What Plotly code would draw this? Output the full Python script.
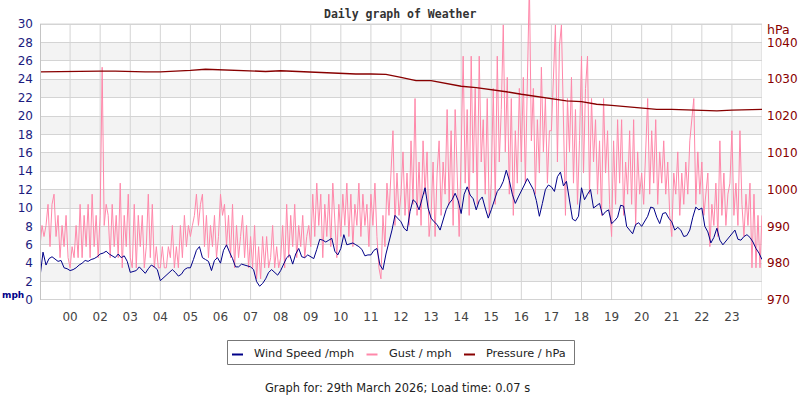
import numpy as np
import plotly.graph_objects as go

# ---------------- data ----------------
hour_labels = ["00", "02", "03", "04", "05", "06", "07", "08", "09", "10", "11",
               "12", "13", "14", "15", "16", "17", "18", "19", "20", "21", "22", "23"]
hour_pos = list(range(len(hour_labels)))          # slot index of each labelled hour
mph_ticks = list(range(0, 31, 2))
hpa_ticks = list(range(970, 1041, 10))
band_lo = [2, 6, 10, 14, 18, 22, 26]               # shaded rows (mph)
band_hi = [4, 8, 12, 16, 20, 24, 28]
series_names = ["Wind Speed /mph", "Gust / mph", "Pressure / hPa"]

# wind speed, mph, every 0.1 h starting one slot before "00"
wind_mph = [
    2.5, 5.2, 3.8, 4.5, 4.7, 4.4, 4.2, 4.3, 3.5, 3.4,
    3.2, 3.3, 3.5, 3.8, 4.0, 4.3, 4.2, 4.4, 4.5, 4.7,
    5.0, 5.1, 5.3, 5.0, 4.8, 4.6, 5.0, 4.6, 4.8, 4.2,
    3.0, 3.1, 3.2, 3.6, 3.3, 2.9, 3.4, 3.8, 3.6, 3.3,
    2.1, 2.4, 2.8, 3.1, 3.3, 3.0, 2.6, 2.8, 3.3, 3.5,
    3.5, 4.4, 5.4, 5.8, 4.6, 4.4, 4.2, 3.2, 4.3, 4.6,
    4.0, 5.4, 6.0, 5.2, 4.5, 3.6, 3.6, 3.9, 3.8, 3.7,
    3.6, 3.3, 2.0, 1.5, 1.8, 2.3, 3.0, 3.3, 3.0, 2.7,
    3.2, 3.9, 4.6, 4.9, 3.9, 5.0, 5.6, 4.7, 4.6, 4.9,
    4.7, 4.5, 5.5, 6.6, 6.5, 6.3, 6.5, 6.7, 5.3, 4.9,
    5.6, 7.1, 6.0, 6.1, 6.2, 6.0, 5.8, 5.5, 4.8, 4.9,
    4.9, 5.4, 5.6, 3.8, 3.3, 5.0, 6.2, 7.6, 9.2, 8.8,
    8.5, 7.8, 7.5, 9.6, 10.9, 10.6, 9.8, 11.0, 12.2, 10.0,
    8.9, 8.5, 8.2, 7.6, 8.6, 9.8, 10.5, 10.9, 11.6, 10.8,
    9.4, 11.5, 12.3, 11.4, 11.0, 9.8, 10.8, 11.2, 10.0, 8.9,
    9.8, 10.9, 11.8, 12.2, 12.9, 14.1, 13.0, 11.5, 10.5, 11.2,
    11.8, 12.5, 13.2, 12.6, 12.0, 10.8, 9.1, 10.5, 12.0, 12.5,
    12.3, 11.8, 13.4, 13.9, 12.4, 12.9, 11.0, 8.8, 8.6, 9.1,
    12.2, 10.9, 11.5, 12.0, 10.0, 10.3, 10.5, 9.2, 9.6, 9.8,
    8.3, 8.6, 9.0, 10.3, 10.2, 8.0, 7.6, 7.2, 8.2, 8.4,
    8.0, 8.6, 9.1, 10.1, 10.0, 9.0, 8.3, 9.4, 9.5, 8.9,
    8.5, 7.6, 7.9, 7.6, 6.9, 7.0, 7.6, 9.0, 10.1, 9.8,
    10.0, 8.0, 7.4, 6.2, 6.8, 7.8, 6.5, 6.0, 6.4, 6.9,
    7.2, 7.6, 6.6, 6.5, 6.9, 7.1, 6.8, 6.3, 5.6, 5.1,
    4.4,
]

# gust, mph, every 4 minutes starting one slot before "00"
gust_mph = [
    5.8, 8.1, 6.9, 8.1, 10.4, 5.8, 10.4, 11.5, 6.9, 9.2, 4.6, 8.1, 5.8, 9.2, 4.6,
    3.5, 5.8, 4.6, 8.1, 4.6, 10.4, 4.6, 9.2, 5.8, 10.4, 4.6, 11.5, 5.8, 9.2, 4.6,
    9.2, 25.3, 8.1, 10.4, 9.2, 4.6, 10.4, 5.8, 9.2, 4.6, 12.7, 3.5, 9.2, 5.8, 11.5,
    4.6, 3.5, 10.4, 3.5, 9.2, 5.8, 9.2, 3.5, 5.8, 11.5, 4.6, 10.4, 3.5, 5.8, 3.5,
    3.5, 5.8, 3.5, 3.5, 5.8, 4.6, 8.1, 3.5, 5.8, 3.5, 8.1, 4.6, 9.2, 5.8, 8.1,
    6.9, 8.1, 9.2, 11.5, 8.1, 10.4, 11.5, 5.8, 9.2, 4.6, 8.1, 5.8, 9.2, 4.6, 6.9,
    11.5, 9.2, 10.4, 5.8, 9.2, 4.6, 10.4, 3.5, 8.1, 4.6, 6.9, 9.2, 4.6, 8.1, 3.5,
    6.9, 3.5, 8.1, 2.3, 5.8, 2.3, 6.9, 3.5, 6.9, 3.5, 4.6, 8.1, 3.5, 5.8, 3.5,
    4.6, 8.1, 3.5, 10.4, 4.6, 9.2, 5.8, 10.4, 4.6, 8.1, 5.8, 9.2, 4.6, 6.9, 8.1,
    5.8, 11.5, 6.9, 12.7, 8.1, 11.5, 4.6, 10.4, 6.9, 11.5, 5.8, 12.7, 8.1, 4.6, 10.4,
    6.9, 11.5, 8.1, 12.7, 6.9, 11.5, 5.8, 10.4, 8.1, 12.7, 6.9, 11.5, 8.1, 10.4, 5.8,
    11.5, 8.1, 12.7, 6.9, 3.5, 2.3, 9.2, 5.8, 12.7, 9.2, 13.8, 18.4, 8.1, 13.8, 9.2,
    11.5, 16.1, 9.2, 13.8, 8.1, 17.3, 10.4, 21.9, 9.2, 15.0, 8.1, 17.3, 11.5, 16.1, 6.9,
    9.2, 15.0, 6.9, 13.8, 17.3, 9.2, 15.0, 11.5, 20.7, 10.4, 18.4, 8.1, 20.7, 12.7, 6.9,
    16.1, 26.5, 12.7, 20.7, 9.2, 26.5, 13.8, 23.0, 10.4, 26.5, 15.0, 19.6, 11.5, 21.9, 9.2,
    12.7, 23.0, 10.4, 26.5, 15.0, 20.7, 29.9, 16.1, 24.2, 11.5, 21.9, 9.2, 18.4, 12.7, 23.0,
    15.0, 24.2, 12.7, 21.9, 34.5, 17.3, 23.0, 11.5, 19.6, 13.8, 25.3, 16.1, 21.9, 12.7, 18.4,
    18.4, 24.2, 29.9, 15.0, 27.6, 29.9, 19.6, 9.2, 21.9, 16.1, 24.2, 12.7, 20.7, 10.4, 17.3,
    26.5, 13.8, 23.0, 26.5, 11.5, 21.9, 15.0, 19.6, 11.5, 17.3, 9.2, 21.9, 13.8, 18.4, 10.4,
    6.9, 17.3, 10.4, 19.6, 12.7, 19.6, 9.2, 15.0, 11.5, 18.4, 10.4, 19.6, 8.1, 16.1, 11.5,
    13.8, 10.4, 16.1, 21.9, 11.5, 18.4, 12.7, 19.6, 10.4, 16.1, 12.7, 17.3, 11.5, 15.0, 9.2,
    6.9, 13.8, 11.5, 16.1, 9.2, 13.8, 10.4, 15.0, 11.5, 17.3, 19.6, 21.9, 10.4, 16.1, 11.5,
    15.0, 9.2, 11.5, 13.8, 5.8, 10.4, 8.1, 12.7, 6.9, 17.3, 9.2, 13.8, 8.1, 11.5, 12.7,
    18.4, 9.2, 12.7, 8.1, 18.4, 10.4, 6.9, 11.5, 8.1, 12.7, 3.5, 11.5, 3.5, 9.2, 3.5,
    9.2,
]

# pressure, hPa, every 0.5 h starting one slot before "00"
pressure_hpa = [
    1032.0, 1032.1, 1032.2, 1032.2, 1032.2, 1032.2, 1032.0, 1032.0, 1032.0, 1032.1,
    1032.4, 1032.7, 1032.5, 1032.5, 1032.3, 1032.1, 1032.3, 1032.1, 1031.9, 1031.7,
    1031.5, 1031.4, 1031.4, 1031.3, 1030.5, 1029.6, 1029.6, 1028.9, 1028.1, 1027.7,
    1027.2, 1026.6, 1025.9, 1025.3, 1024.6, 1024.1, 1023.9, 1023.2, 1022.9, 1022.6,
    1022.1, 1021.8, 1021.8, 1021.7, 1021.4, 1021.4, 1021.6, 1021.7, 1021.8,
]

wind_t = np.arange(len(wind_mph)) * 0.1 - 1
gust_t = np.arange(len(gust_mph)) / 15 - 1
pres_t = np.arange(len(pressure_hpa)) * 0.5 - 1

# ---------------- styling ----------------
NAVY = "#000088"
PINK = "#ff88aa"
DRED = "#880000"
GRID = "#d4d4d4"
BAND = "#f3f3f3"
FONT = "DejaVu Sans"
colors = [NAVY, PINK, DRED]

FIG_W, FIG_H = 800, 400
PL, PR, PB = 40, 762, 300          # plot edges in page pixels (left, right, bottom)
PT = 0                             # plot area reaches the top of the page
PW, PH = PR - PL, PB - PT


def px(xp):
    return (xp - PL) / PW


def py(yp):
    return (PB - yp) / PH


X0, X1 = -1, 23
Y_TOP = 30
Y_RANGE = [0, PH * 30 / 276]
Y2_RANGE = [970, 970 + PH * 75 / 276]

fig = go.Figure()

fig.add_trace(go.Scatter(x=gust_t, y=gust_mph, mode="lines", line=dict(color=PINK, width=1),
                         name=series_names[1], showlegend=False, hoverinfo="skip"))
fig.add_trace(go.Scatter(x=wind_t, y=wind_mph, mode="lines", line=dict(color=NAVY, width=1),
                         name=series_names[0], showlegend=False, hoverinfo="skip"))
fig.add_trace(go.Scatter(x=pres_t, y=pressure_hpa, mode="lines", yaxis="y2",
                         name=series_names[2], line=dict(color=DRED, width=1.4),
                         showlegend=False, hoverinfo="skip"))

shapes = []
for lo, hi in zip(band_lo, band_hi):
    shapes.append(dict(type="rect", xref="x", yref="y", x0=X0, x1=X1, y0=lo, y1=hi,
                       fillcolor=BAND, line=dict(width=0), layer="below"))
for p in hour_pos:
    shapes.append(dict(type="line", xref="x", yref="y", x0=p, x1=p, y0=0, y1=Y_TOP,
                       line=dict(color=GRID, width=1), layer="below"))
# frame
shapes.append(dict(type="line", xref="x", yref="y", x0=X0, x1=X1, y0=Y_TOP, y1=Y_TOP,
                   line=dict(color=GRID, width=1), layer="below"))
shapes.append(dict(type="line", xref="x", yref="y", x0=X1, x1=X1, y0=0, y1=Y_TOP,
                   line=dict(color=GRID, width=1), layer="below"))
shapes.append(dict(type="line", xref="x", yref="y", x0=X0, x1=X0, y0=0, y1=Y_TOP,
                   line=dict(color="#c4c4c4", width=2), layer="above"))
shapes.append(dict(type="line", xref="x", yref="y", x0=X0, x1=X1, y0=0, y1=0,
                   line=dict(color="#c4c4c4", width=1.5), layer="above"))

# hand-drawn legend (box, short swatches, labels)
shapes.append(dict(type="rect", xref="paper", yref="paper", x0=px(227.5), x1=px(574.5),
                   y0=py(364.5), y1=py(340.5), line=dict(color="#777777", width=1),
                   fillcolor="white", layer="above"))
swatch_x = [232, 366.5, 464]
text_x = [251.7, 386.5, 484.3]
annotations = []
for sx, tx, name, col in zip(swatch_x, text_x, series_names, colors):
    shapes.append(dict(type="line", xref="paper", yref="paper", x0=px(sx), x1=px(sx + 11),
                       y0=py(354.5), y1=py(354.5), line=dict(color=col, width=2), layer="above"))
    annotations.append(dict(text=name, xref="paper", yref="paper", x=px(tx), y=py(353.5),
                            xanchor="left", yanchor="middle", showarrow=False,
                            font=dict(family=FONT, size=11.3, color="#222222")))

annotations += [
    dict(text="<b>Daily graph of Weather</b>", xref="paper", yref="paper", x=px(400), y=py(13.5),
         xanchor="center", yanchor="middle", showarrow=False,
         font=dict(family="DejaVu Sans Mono", size=11.5, color="#333333")),
    dict(text="hPa", xref="paper", yref="paper", x=px(778), y=py(30),
         xanchor="center", yanchor="middle", showarrow=False,
         font=dict(family=FONT, size=12.5, color=DRED)),
    dict(text="<b>mph</b>", xref="paper", yref="paper", x=px(1), y=py(294.5),
         xanchor="left", yanchor="middle", showarrow=False, borderpad=0,
         font=dict(family=FONT, size=9, color=NAVY)),
    dict(text="Graph for: 29th March 2026; Load time: 0.07 s", xref="paper", yref="paper",
         x=px(263.3), y=py(388.3), xanchor="left", yanchor="middle",
         showarrow=False, font=dict(family=FONT, size=11.4, color="#222222")),
]

fig.update_layout(
    width=FIG_W, height=FIG_H,
    margin=dict(l=PL, r=FIG_W - PR, t=PT, b=FIG_H - PB, pad=0, autoexpand=False),
    paper_bgcolor="white", plot_bgcolor="white",
    font=dict(family=FONT, size=12, color="#333333"),
    shapes=shapes, annotations=annotations,
    showlegend=False,
    xaxis=dict(range=[X0, X1], tickmode="array", tickvals=hour_pos, ticktext=hour_labels,
               showgrid=False, zeroline=False, showline=False, ticks="",
               ticklabelstandoff=8, automargin=False,
               tickfont=dict(family=FONT, size=12, color="#444444"), fixedrange=True),
    yaxis=dict(range=Y_RANGE, tickmode="array", tickvals=mph_ticks,
               showgrid=True, gridcolor=GRID, gridwidth=1, zeroline=False, showline=False,
               ticks="", ticklabelstandoff=6, automargin=False,
               tickfont=dict(family=FONT, size=12, color="#1c1c80"), fixedrange=True),
    yaxis2=dict(range=Y2_RANGE, overlaying="y", side="right", tickmode="array",
                tickvals=hpa_ticks, showgrid=False, zeroline=False, showline=False,
                ticks="", ticklabelstandoff=4, automargin=False,
                tickfont=dict(family=FONT, size=12, color=DRED), fixedrange=True),
)

# remove the browser's default 8px page margin so the 800x400 figure fills the window
fig.write_html("out.html", config={"displayModeBar": False},
               post_script="document.body.style.margin='0px';")
